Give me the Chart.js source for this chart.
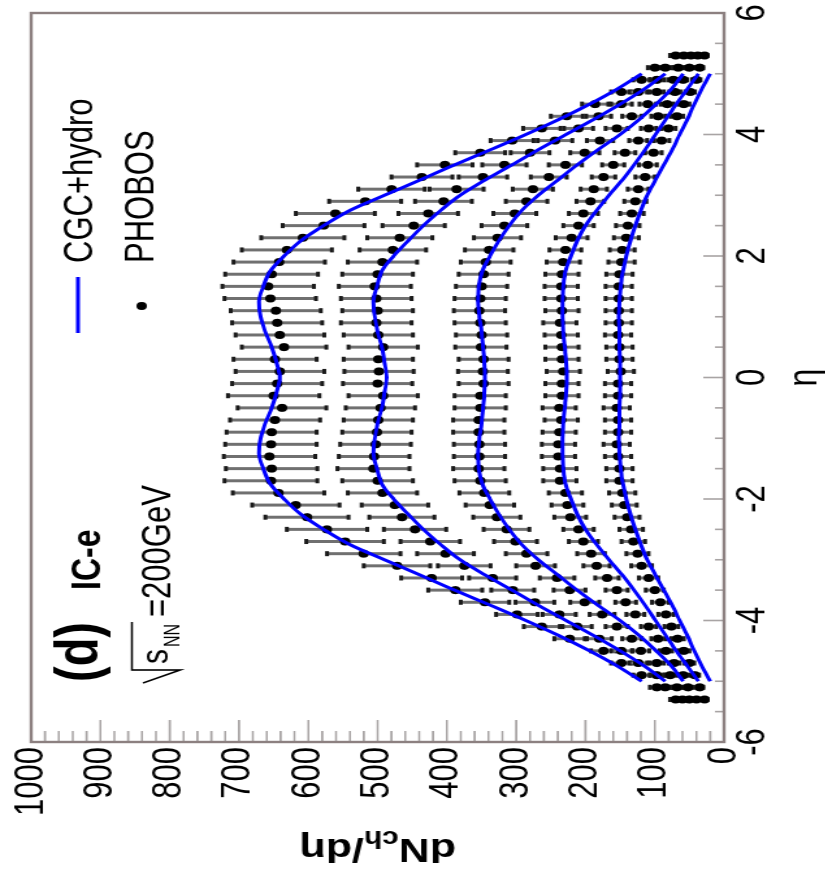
<!DOCTYPE html>
<html>
<head>
<meta charset="utf-8">
<title>dNch/deta CGC+hydro vs PHOBOS</title>
<script src="https://cdn.jsdelivr.net/npm/chart.js@4.4.0/dist/chart.umd.min.js"></script>
<style>
  html, body { margin: 0; padding: 0; background: #fff; overflow: hidden; }
  /* the figure is drawn upright, then turned a quarter turn left and stretched like the original */
  #wrap {
    position: absolute; left: 0; top: 0;
    width: 879px; height: 635px;
    transform-origin: 0 0;
    transform: translate(0px, 879px) rotate(-90deg) scale(1, 1.3);
  }
</style>
</head>
<body>
<div id="wrap"><canvas id="chart" width="879" height="635"></canvas></div>
<script>
// PHOBOS points, eta bins
const etaData = [-5.3, -5.1, -4.9, -4.7, -4.5, -4.3, -4.1, -3.9, -3.7, -3.5, -3.3, -3.1, -2.9, -2.7,
  -2.5, -2.3, -2.1, -1.9, -1.7, -1.5, -1.3, -1.1, -0.9, -0.7, -0.5, -0.3, -0.1,
  0.1, 0.3, 0.5, 0.7, 0.9, 1.1, 1.3, 1.5, 1.7, 1.9, 2.1, 2.3, 2.5, 2.7,
  2.9, 3.1, 3.3, 3.5, 3.7, 3.9, 4.1, 4.3, 4.5, 4.7, 4.9, 5.1, 5.3];

const phobos0 = [70, 97, 119, 148, 174, 223, 263, 299, 345, 388, 422, 472, 520, 547, 573, 602, 618, 643, 654, 653,
  656, 654, 653, 648, 638, 650, 645, 641, 648, 635, 641, 645, 647, 655, 658, 653, 642,
  631, 608, 578, 561, 518, 480, 436, 403, 352, 306, 263, 227, 186, 148, 119, 100, 70];
const phobos1 = [60, 85, 97, 124, 148, 180, 212, 238, 273, 305, 334, 375, 402, 424, 446, 465, 475, 493, 500, 506,
  505, 503, 501, 499, 496, 492, 500, 498, 499, 492, 499, 502, 500, 502, 504, 500, 493,
  478, 468, 448, 427, 405, 386, 348, 317, 280, 244, 210, 181, 148, 124, 97, 85, 58];
const phobos2 = [50, 68, 78, 97, 120, 133, 155, 176, 201, 223, 241, 272, 285, 301, 314, 328, 338, 346, 352, 354,
  353, 353, 354, 354, 352, 352, 347, 348, 347, 351, 350, 352, 353, 352, 350, 347, 344,
  339, 327, 317, 302, 285, 276, 253, 229, 201, 179, 155, 133, 110, 97, 73, 66, 48];
const phobos3 = [40, 52, 59, 72, 84, 95, 109, 128, 142, 155, 169, 184, 192, 203, 210, 222, 226, 229, 237, 237,
  239, 239, 238, 235, 238, 234, 234, 232, 234, 234, 235, 237, 234, 235, 235, 234, 232,
  229, 220, 210, 203, 193, 188, 174, 160, 143, 124, 109, 95, 82, 71, 59, 50, 38];
const phobos4 = [28, 35, 42, 50, 58, 67, 76, 84, 92, 100, 109, 119, 125, 131, 134, 140, 144, 147, 151, 151,
  153, 155, 153, 153, 155, 153, 153, 149, 151, 151, 153, 152, 152, 152, 152, 151, 148,
  147, 141, 139, 133, 128, 124, 114, 110, 102, 90, 80, 68, 58, 49, 40, 35, 28];

// error bar half lengths
const err0 = [8, 10, 12, 15, 18, 22, 26, 30, 35, 39, 44, 48, 53, 56, 58, 60, 63, 66, 67, 66,
  66, 66, 65, 65, 64, 66, 65, 64, 60, 61, 64, 65, 65, 66, 66, 67, 66,
  65, 60, 59, 57, 52, 48, 44, 40, 36, 31, 27, 23, 19, 15, 12, 10, 8];
const err1 = [7, 9, 10, 13, 15, 18, 21, 24, 28, 31, 34, 38, 41, 43, 45, 47, 48, 50, 51, 52,
  51, 51, 50, 50, 50, 50, 50, 50, 50, 50, 50, 51, 51, 51, 52, 51, 50,
  48, 47, 45, 43, 41, 39, 35, 32, 28, 25, 21, 18, 15, 13, 10, 9, 7];
const err2 = [6, 7, 8, 10, 12, 14, 16, 18, 21, 23, 25, 28, 30, 31, 33, 34, 35, 36, 37, 37,
  37, 37, 37, 37, 37, 37, 36, 36, 36, 37, 37, 37, 37, 37, 37, 36, 36,
  35, 34, 33, 31, 30, 29, 26, 24, 21, 19, 16, 14, 12, 10, 8, 7, 6];
const err3 = [5, 6, 6, 8, 9, 10, 11, 13, 15, 16, 17, 19, 20, 21, 22, 23, 23, 24, 24, 24,
  24, 24, 24, 24, 24, 24, 24, 24, 24, 24, 24, 24, 24, 24, 24, 24, 24,
  23, 23, 22, 21, 20, 19, 17, 16, 15, 13, 11, 10, 9, 8, 6, 6, 5];
const err4 = [4, 5, 6, 7, 8, 9, 10, 11, 12, 13, 14, 15, 16, 17, 17, 18, 18, 19, 19, 19,
  19, 19, 19, 19, 19, 19, 19, 19, 19, 19, 19, 19, 19, 19, 19, 19, 19,
  18, 18, 17, 17, 16, 15, 14, 13, 12, 11, 10, 9, 8, 7, 6, 5, 4];

// CGC+hydro curves
const modelEta = [-5, -4.75, -4.5, -4.25, -4, -3.75, -3.5, -3.25, -3, -2.75, -2.5, -2.25, -2, -1.75,
  -1.5, -1.25, -1, -0.75, -0.5, -0.25, 0, 0.25, 0.5, 0.75, 1, 1.25, 1.5, 1.75,
  2, 2.25, 2.5, 2.75, 3, 3.25, 3.5, 3.75, 4, 4.25, 4.5, 4.75, 5];
const model0 = [119, 154, 194, 238, 286, 337, 389, 439, 490, 540, 578, 611, 635, 655, 665, 671, 669, 662, 653, 646,
  641, 646, 653, 662, 669, 671, 665, 655, 635, 611, 578, 540, 490, 439, 389, 337, 286, 238, 194, 154, 119];
const model1 = [85, 115, 150, 188, 228, 268, 306, 345, 381, 409, 434, 456, 477, 494, 501, 506, 504, 500, 494, 490,
  487, 490, 494, 500, 504, 506, 501, 494, 477, 456, 434, 409, 381, 345, 306, 268, 228, 188, 150, 115, 85];
const model2 = [59, 76, 98, 122, 150, 182, 212, 240, 268, 292, 310, 325, 338, 349, 354, 355, 353, 350, 348, 346,
  345, 346, 348, 350, 353, 355, 354, 349, 338, 325, 310, 292, 268, 240, 212, 182, 150, 122, 98, 76, 59];
const model3 = [37, 53, 69, 84, 99, 114, 130, 147, 166, 184, 200, 212, 221, 229, 232, 233, 233, 232, 230, 228,
  227, 228, 230, 232, 233, 233, 232, 229, 221, 212, 200, 184, 166, 147, 130, 114, 99, 84, 69, 53, 37];
const model4 = [20, 32, 43, 53, 64, 75, 87, 99, 111, 120, 128, 135, 141, 146, 149, 151, 152, 151, 151, 150,
  150, 150, 151, 151, 152, 151, 149, 146, 141, 135, 128, 120, 111, 99, 87, 75, 64, 53, 43, 32, 20];

const xTickLabels = ['-6', '-4', '-2', '0', '2', '4', '6'];
const yTickLabels = ['0', '100', '200', '300', '400', '500', '600', '700', '800', '900', '1000'];

const phobosSeries = [phobos0, phobos1, phobos2, phobos3, phobos4];
const phobosErr = [err0, err1, err2, err3, err4];
const modelSeries = [model0, model1, model2, model3, model4];

const FONT = "'Liberation Sans', Arial, Helvetica, sans-serif";
const BLUE = '#0000ff';

const datasets = [];
modelSeries.forEach(m => {
  datasets.push({
    type: 'line',
    data: modelEta.map((x, i) => ({ x: x, y: m[i] })),
    borderColor: BLUE,
    borderWidth: 3,
    pointRadius: 0,
    showLine: true,
    fill: false,
    cubicInterpolationMode: 'monotone',
    order: 0
  });
});
phobosSeries.forEach((s, k) => {
  datasets.push({
    type: 'scatter',
    data: etaData.map((x, i) => ({ x: x, y: s[i] })),
    errors: phobosErr[k],
    pointRadius: 4,
    pointBorderWidth: 0,
    backgroundColor: '#000',
    borderColor: '#000',
    order: 1
  });
});

// vertical error bars with small caps, under the markers
const errorBars = {
  id: 'errorBars',
  beforeDatasetsDraw(chart) {
    const { ctx, scales: { x, y } } = chart;
    ctx.save();
    chart.data.datasets.forEach(ds => {
      if (!ds.errors) return;
      ds.data.forEach((p, i) => {
        const px = x.getPixelForValue(p.x);
        const lo = y.getPixelForValue(p.y - ds.errors[i]);
        const hi = y.getPixelForValue(p.y + ds.errors[i]);
        ctx.strokeStyle = '#707070';
        ctx.lineWidth = 3;
        ctx.beginPath();
        ctx.moveTo(px, lo);
        ctx.lineTo(px, hi);
        ctx.stroke();
        ctx.fillStyle = '#1a1a1a';
        ctx.fillRect(px - 2.5, lo - 1.5, 5, 3);
        ctx.fillRect(px - 2.5, hi - 1.5, 5, 3);
      });
    });
    ctx.restore();
  }
};

// ROOT-like frame with inward major/minor ticks
const frame = {
  id: 'frame',
  afterDatasetsDraw(chart) {
    const { ctx, chartArea: a, scales: { x, y } } = chart;
    ctx.save();
    ctx.strokeStyle = '#a8a4a4';
    ctx.lineWidth = 1.6;
    ctx.beginPath();
    for (let v = 0; v <= 1000; v += 20) {
      const py = y.getPixelForValue(v);
      ctx.moveTo(a.left, py);
      ctx.lineTo(a.left + (v % 100 === 0 ? 22 : 11), py);
    }
    for (let v = -6; v <= 6; v += 0.5) {
      const px = x.getPixelForValue(v);
      ctx.moveTo(px, a.bottom);
      ctx.lineTo(px, a.bottom - (v % 2 === 0 ? 16 : 7));
    }
    ctx.stroke();
    ctx.strokeStyle = '#8c8080';
    ctx.lineWidth = 2.4;
    ctx.strokeRect(a.left, a.top, a.right - a.left, a.bottom - a.top);
    ctx.restore();
  }
};

// labels, legend and axis titles
const texts = {
  id: 'texts',
  afterDraw(chart) {
    const { ctx, chartArea: a } = chart;
    ctx.save();
    ctx.fillStyle = '#000';
    ctx.textBaseline = 'alphabetic';
    ctx.textAlign = 'left';

    ctx.font = 'bold 47px ' + FONT;
    ctx.fillText('(d)', 197, 75);
    ctx.font = 'bold 32px ' + FONT;
    ctx.fillText('IC-e', 289, 77);

    // sqrt(s_NN)=200GeV
    ctx.strokeStyle = '#000';
    ctx.lineWidth = 1.6;
    ctx.beginPath();
    ctx.moveTo(196, 110);
    ctx.lineTo(209, 138.5);
    ctx.lineTo(209, 101.5);
    ctx.lineTo(257, 101.5);
    ctx.stroke();
    ctx.font = '30px ' + FONT;
    ctx.fillText('s', 215, 128.5);
    ctx.font = '16px ' + FONT;
    ctx.fillText('NN', 232, 138);
    ctx.font = '31px ' + FONT;
    ctx.fillText('=200GeV', 262, 131);

    // legend
    ctx.strokeStyle = BLUE;
    ctx.lineWidth = 3;
    ctx.beginPath();
    ctx.moveTo(546, 60);
    ctx.lineTo(602, 60);
    ctx.stroke();
    ctx.font = '31px ' + FONT;
    ctx.fillText('CGC+hydro', 616, 71);
    ctx.beginPath();
    ctx.arc(573, 109, 4, 0, Math.PI * 2);
    ctx.fill();
    ctx.fillText('PHOBOS', 616, 118);

    // x title
    ctx.textAlign = 'center';
    ctx.font = '32px ' + FONT;
    ctx.fillText('η', (a.left + a.right) / 2, 628);

    // y title: dN_ch/dη
    ctx.translate(40, (a.top + a.bottom) / 2);
    ctx.rotate(-Math.PI / 2);
    ctx.textAlign = 'left';
    const big = 'bold 33px ' + FONT, small = 'bold 23px ' + FONT;
    ctx.font = big;
    const w1 = ctx.measureText('dN').width;
    const w3 = ctx.measureText('/dη').width;
    ctx.font = small;
    const w2 = ctx.measureText('ch').width;
    let sx = -(w1 + w2 + w3) / 2;
    ctx.font = big;
    ctx.fillText('dN', sx, 0);
    ctx.font = small;
    ctx.fillText('ch', sx + w1, 8);
    ctx.font = big;
    ctx.fillText('/dη', sx + w1 + w2, 0);
    ctx.restore();
  }
};

new Chart(document.getElementById('chart'), {
  type: 'scatter',
  data: { datasets: datasets },
  options: {
    responsive: false,
    animation: false,
    layout: { padding: { top: 24, right: 13, left: 0, bottom: 0 }, autoPadding: false },
    plugins: { legend: { display: false }, tooltip: { enabled: false } },
    scales: {
      x: {
        type: 'linear', min: -6, max: 6,
        grid: { display: false, drawTicks: false },
        border: { display: false },
        ticks: {
          stepSize: 2, autoSkip: false, padding: 4, color: '#000',
          font: { family: FONT, size: 31 },
          callback: (v) => xTickLabels[Math.round((v + 6) / 2)]
        },
        afterFit(s) { s.height = 78; }
      },
      y: {
        type: 'linear', min: 0, max: 1000,
        grid: { display: false, drawTicks: false },
        border: { display: false },
        ticks: {
          stepSize: 100, autoSkip: false, padding: 5, color: '#000',
          font: { family: FONT, size: 31 },
          callback: (v) => yTickLabels[Math.round(v / 100)]
        },
        afterFit(s) { s.width = 137; }
      }
    }
  },
  plugins: [errorBars, frame, texts]
});
</script>
</body>
</html>
